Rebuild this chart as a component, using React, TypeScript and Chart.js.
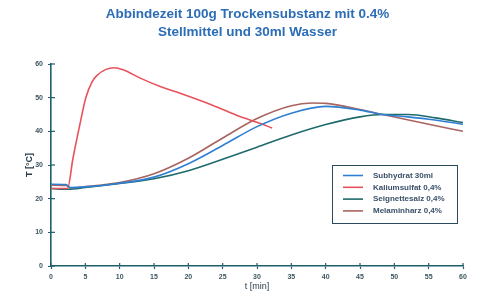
import React, { useEffect, useRef } from "react";
import { Chart, registerables } from "chart.js";

Chart.register(...registerables);

const titleLines = ["Abbindezeit 100g Trockensubstanz mit 0.4%", "Stellmittel und 30ml Wasser"];
const xAxisTitle = "t [min]";
const yAxisTitle = "T [°C]";

const seriesLabels = ["Subhydrat 30ml", "Kaliumsulfat 0,4%", "Seignettesalz 0,4%", "Melaminharz 0,4%"];
const seriesColors = ["#2f7fd3", "#e8525c", "#1f6a6c", "#a8645f"];

const subhydratX = [0, 2.2, 2.8, 5, 10, 15, 20, 25, 30, 35, 40, 45, 48.3, 52, 55, 60];
const subhydratY = [24.3, 24.2, 23.3, 23.5, 24.6, 26.4, 30.4, 35.8, 41.4, 45.4, 47.4, 46.3, 45, 44.3, 43.6, 42.1];

const kaliumX = [0, 2.4, 3.2, 4.2, 5.1, 6, 6.7, 8, 9.2, 10.5, 13, 15.9, 18.8, 23.6, 27.5, 30.4, 32.2];
const kaliumY = [23, 23, 32, 42, 50.2, 54.8, 56.6, 58.4, 58.9, 58.3, 55.8, 53.3, 51.3, 47.7, 44.4, 42.4, 41];

const seignetteX = [0, 2.5, 5, 10, 15, 20, 25, 30, 35, 40, 45, 48.3, 52, 56, 60];
const seignetteY = [23, 22.8, 23.3, 24.5, 25.9, 28.3, 31.7, 35.3, 38.9, 42, 44.3, 45, 45, 44, 42.6];

const melaminX = [0, 2.2, 2.8, 5, 10, 15, 20, 25, 30, 35, 38, 40, 45, 48.3, 55, 60];
const melaminY = [24, 23.9, 23.2, 23.6, 24.8, 27.4, 32, 38, 43.8, 47.6, 48.4, 48.3, 46.5, 45, 42.1, 40];

const xTicksMin = 0;
const xTicksMax = 60;
const xTickStep = 5;
const yTicksMin = 0;
const yTicksMax = 60;
const yTickStep = 10;

const axisColor = "#1e5f6c";
const tickTextColor = "#3c5660";

function toPoints(xs: number[], ys: number[]) {
  return xs.map((x, i) => ({ x, y: ys[i] }));
}

const innerTicksPlugin = {
  id: "innerTicks",
  afterDatasetsDraw(chart: any) {
    const { ctx, chartArea, scales } = chart;
    ctx.save();
    ctx.strokeStyle = axisColor;
    ctx.lineWidth = 1.2;
    scales.x.ticks.forEach((t: any) => {
      const px = scales.x.getPixelForValue(t.value);
      ctx.beginPath();
      ctx.moveTo(px, chartArea.bottom);
      ctx.lineTo(px, chartArea.bottom - 3);
      ctx.stroke();
    });
    scales.y.ticks.forEach((t: any) => {
      const py = scales.y.getPixelForValue(t.value);
      ctx.beginPath();
      ctx.moveTo(chartArea.left, py);
      ctx.lineTo(chartArea.left + 4, py);
      ctx.stroke();
    });
    ctx.restore();
  },
};

const boxLegendPlugin = {
  id: "boxLegend",
  afterDraw(chart: any) {
    const { ctx, chartArea } = chart;
    const w = 125;
    const h = 58;
    const x = chartArea.right - 6 - w;
    const y = chartArea.top + 101;
    ctx.save();
    ctx.fillStyle = "#ffffff";
    ctx.fillRect(x, y, w, h);
    ctx.strokeStyle = "#2a4a5e";
    ctx.lineWidth = 1;
    ctx.strokeRect(x + 0.5, y + 0.5, w, h);
    ctx.font = "bold 8px 'Liberation Sans', Arial, sans-serif";
    ctx.textBaseline = "middle";
    chart.data.datasets.forEach((ds: any, i: number) => {
      const ly = y + 10.5 + i * 11.8;
      ctx.strokeStyle = ds.borderColor;
      ctx.lineWidth = 1.6;
      ctx.beginPath();
      ctx.moveTo(x + 11, ly);
      ctx.lineTo(x + 31, ly);
      ctx.stroke();
      ctx.fillStyle = "#3a5068";
      ctx.fillText(ds.label, x + 41, ly);
    });
    ctx.restore();
  },
};

export default function App() {
  const ref = useRef<HTMLCanvasElement>(null);

  useEffect(() => {
    if (!ref.current) return;
    const xs = [subhydratX, kaliumX, seignetteX, melaminX];
    const ys = [subhydratY, kaliumY, seignetteY, melaminY];
    const chart = new Chart(ref.current, {
      type: "line",
      data: {
        datasets: seriesLabels.map((label, i) => ({
          label,
          data: toPoints(xs[i], ys[i]),
          borderColor: seriesColors[i],
          backgroundColor: seriesColors[i],
          borderWidth: 1.6,
          pointRadius: 0,
          cubicInterpolationMode: "monotone" as const,
          fill: false,
        })),
      },
      options: {
        animation: false,
        responsive: false,
        maintainAspectRatio: false,
        layout: { padding: { left: 20, right: 8, top: 0, bottom: 0 } },
        plugins: {
          legend: { display: false },
          tooltip: { enabled: false },
          title: {
            display: true,
            text: titleLines,
            color: "#2c6db6",
            font: { family: "'Liberation Sans', Arial, sans-serif", size: 13.5, weight: "bold", lineHeight: 1.3 },
            padding: { top: 6, bottom: 22.9 },
          },
        },
        scales: {
          x: {
            type: "linear",
            min: xTicksMin,
            max: xTicksMax,
            afterFit(scale: any) {
              scale.height = 34;
              scale.paddingRight = 20;
              scale.paddingLeft = 0;
            },
            ticks: {
              stepSize: xTickStep,
              color: tickTextColor,
              font: { family: "'Liberation Sans', Arial, sans-serif", size: 7, weight: "bold" },
              padding: 4,
              maxRotation: 0,
            },
            grid: { display: true, drawOnChartArea: false, drawTicks: true, tickLength: 3, tickColor: axisColor, tickWidth: 1.2 },
            border: { display: true, color: axisColor, width: 1.6 },
            title: {
              display: true,
              text: xAxisTitle,
              color: "#2a3e4c",
              font: { family: "'Liberation Sans', Arial, sans-serif", size: 9 },
              padding: { top: 0, bottom: 8 },
            },
          },
          y: {
            type: "linear",
            min: yTicksMin,
            max: yTicksMax,
            afterFit(scale: any) {
              scale.width = 31;
              scale.paddingTop = 0;
              scale.paddingBottom = 0;
            },
            ticks: {
              stepSize: yTickStep,
              color: tickTextColor,
              font: { family: "'Liberation Sans', Arial, sans-serif", size: 7, weight: "bold" },
              padding: 5,
            },
            grid: { display: true, drawOnChartArea: false, drawTicks: true, tickLength: 3, tickColor: axisColor, tickWidth: 1.2 },
            border: { display: true, color: axisColor, width: 1.6 },
            title: {
              display: true,
              text: yAxisTitle,
              color: "#2a3e4c",
              font: { family: "'Liberation Sans', Arial, sans-serif", size: 9, weight: "bold" },
              padding: { top: 4, bottom: 4 },
            },
          },
        },
      },
      plugins: [innerTicksPlugin, boxLegendPlugin],
    });
    return () => chart.destroy();
  }, []);

  return (
    <div style={{ position: "absolute", left: 0, top: 0, width: 483, height: 300, background: "#ffffff" }}>
      <canvas ref={ref} width={483} height={300} style={{ display: "block", width: 483, height: 300 }} />
    </div>
  );
}
